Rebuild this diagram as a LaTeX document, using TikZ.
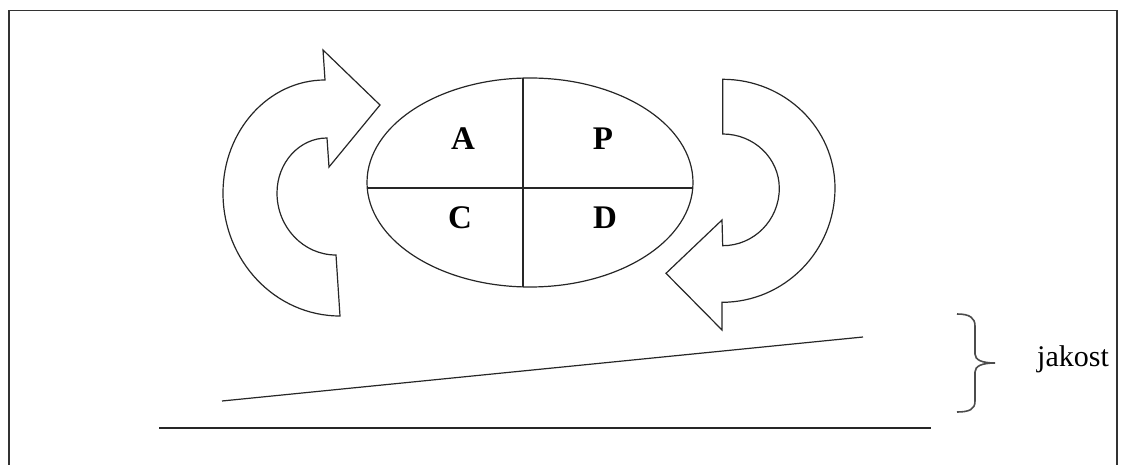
\documentclass[tikz,border=0pt]{standalone}
\usepackage{fontspec}
\setmainfont{Liberation Serif}
\usetikzlibrary{shapes.geometric}
\begin{document}
\begin{tikzpicture}[x=1pt,y=-1pt,
  outline/.style={draw=black!85,line width=1.2pt,line join=miter},
  frameline/.style={draw=black!80,line width=1.6pt},
  quad/.style={font=\fontsize{33}{36}\selectfont\bfseries,inner sep=0pt,anchor=base},
  lbl/.style={font=\fontsize{30}{34}\selectfont,inner sep=0pt,anchor=base west}]
\useasboundingbox (0,0) rectangle (1125,465);

% page frame
\draw[frameline] (9,466) -- (9,10.5) -- (1117,10.5) -- (1117,466);

% PDCA ellipse split into four quadrants
\node[ellipse,outline,minimum width=326pt,minimum height=209pt,inner sep=0pt] (cycle) at (530,182.5) {};
\draw[outline] (367.2,188) -- (692.8,188);
\draw[outline] (523,78.1) -- (523,286.9);
\node[quad] (a) at (463,150) {A};
\node[quad] (p) at (603,150) {P};
\node[quad] (c) at (460,229) {C};
\node[quad] (d) at (605,229) {D};

% left circular arrow (pointing up and right)
\draw[outline,fill=white] (323,50) -- (325,80)
  .. controls (268.7,80) and (223,130.6) .. (223,193)
  .. controls (223,261) and (275.4,316) .. (340,316)
  -- (336,255)
  .. controls (303.4,255) and (277,227.2) .. (277,193)
  .. controls (277,162.6) and (299.4,138) .. (327,138)
  -- (329,167) -- (380,105) -- cycle;

% right circular arrow (pointing down and left)
\draw[outline,fill=white] (722.7,79.3) -- (722.7,134)
  .. controls (754,134) and (779.3,158.3) .. (779.3,188.3)
  .. controls (779.3,220) and (754,245.7) .. (722.7,245.7)
  -- (722,220) -- (666,273.3) -- (722,330) -- (722,302.3)
  .. controls (784.4,302.3) and (835,251.1) .. (835,188)
  .. controls (835,128) and (784.7,79.3) .. cycle;

% rising quality line over the base line
\draw[outline] (222,401) -- (863,337);
\draw[outline] (159,428) -- (931,428);

% brace with its label
\draw[draw=black!70,line width=1.6pt]
  (957,314) .. controls (970,314) and (975,318) .. (975,326)
  -- (975,354)
  .. controls (975,360) and (982,363) .. (995,363)
  .. controls (982,363) and (975,366) .. (975,372)
  -- (975,401)
  .. controls (975,409) and (970,412) .. (957,412);
\node[lbl] (q) at (1037,366) {jakost};
\end{tikzpicture}
\end{document}
